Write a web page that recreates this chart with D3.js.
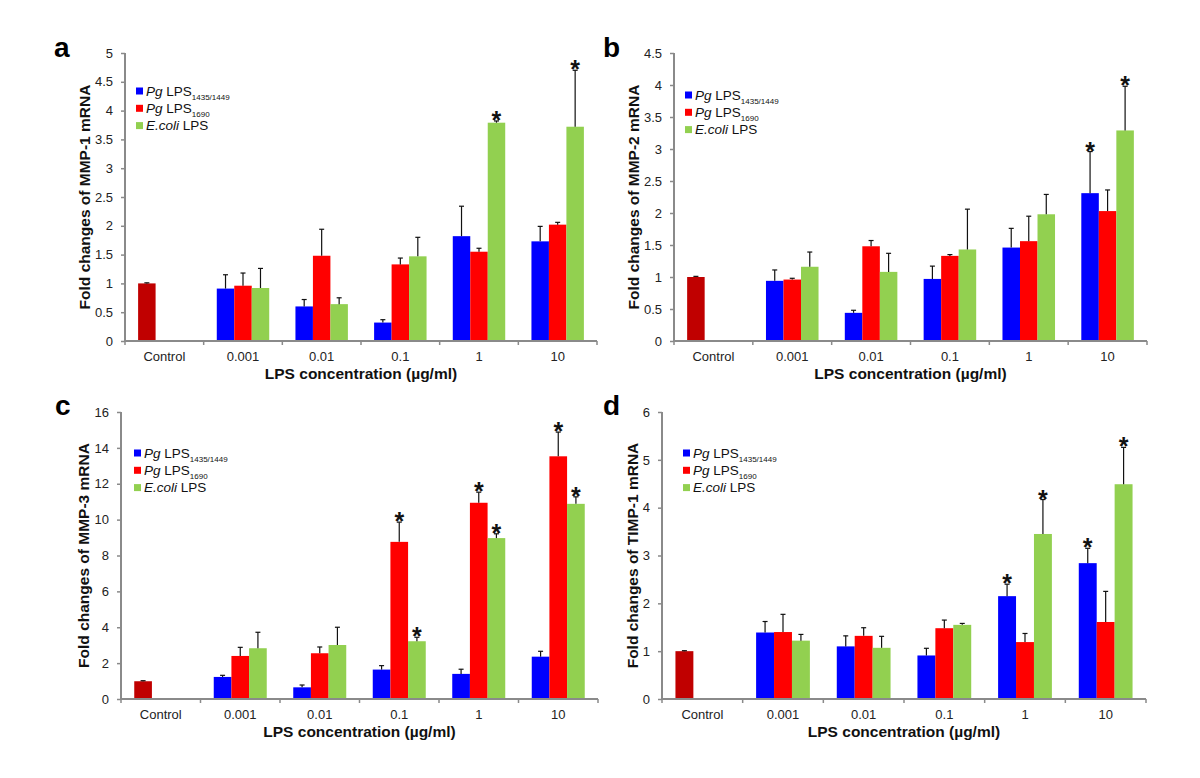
<!DOCTYPE html>
<html>
<head>
<meta charset="utf-8">
<script src="https://cdn.jsdelivr.net/npm/d3@7"></script>
<style>
  html, body { margin: 0; padding: 0; background: #fff; }
  svg { display: block; font-family: "Liberation Sans", Arial, sans-serif; }
</style>
</head>
<body>
<svg id="chart" width="1200" height="778"></svg>
<script>
// ---------------- DATA ----------------
const categories = ["Control", "0.001", "0.01", "0.1", "1", "10"];
const doses = ["0.001", "0.01", "0.1", "1", "10"];
const seriesKeys = ["pg1435", "pg1690", "ecoli"];

// Panel a: MMP-1
const mmp1Control = [1.00]; const mmp1ControlErr = [0.01];
const mmp1Pg1435 = [0.91, 0.60, 0.32, 1.82, 1.73];
const mmp1Pg1435Err = [0.24, 0.12, 0.05, 0.52, 0.26];
const mmp1Pg1690 = [0.96, 1.48, 1.33, 1.55, 2.02];
const mmp1Pg1690Err = [0.22, 0.46, 0.11, 0.06, 0.04];
const mmp1Ecoli = [0.92, 0.64, 1.47, 3.79, 3.72];
const mmp1EcoliErr = [0.34, 0.11, 0.33, 0.03, 0.98];
const mmp1Stars = [[], [], ["1", "10"]];
const mmp1Ticks = [0, 0.5, 1, 1.5, 2, 2.5, 3, 3.5, 4, 4.5, 5];

// Panel b: MMP-2
const mmp2Control = [1.00]; const mmp2ControlErr = [0.01];
const mmp2Pg1435 = [0.94, 0.44, 0.97, 1.46, 2.31];
const mmp2Pg1435Err = [0.17, 0.04, 0.20, 0.30, 0.65];
const mmp2Pg1690 = [0.96, 1.48, 1.33, 1.56, 2.03];
const mmp2Pg1690Err = [0.02, 0.09, 0.02, 0.39, 0.33];
const mmp2Ecoli = [1.16, 1.08, 1.43, 1.98, 3.29];
const mmp2EcoliErr = [0.23, 0.29, 0.63, 0.31, 0.69];
const mmp2Stars = [["10"], [], ["10"]];
const mmp2Ticks = [0, 0.5, 1, 1.5, 2, 2.5, 3, 3.5, 4, 4.5];

// Panel c: MMP-3
const mmp3Control = [0.99]; const mmp3ControlErr = [0.03];
const mmp3Pg1435 = [1.23, 0.65, 1.64, 1.40, 2.36];
const mmp3Pg1435Err = [0.09, 0.13, 0.22, 0.26, 0.30];
const mmp3Pg1690 = [2.40, 2.55, 8.76, 10.94, 13.53];
const mmp3Pg1690Err = [0.48, 0.35, 1.10, 0.59, 1.35];
const mmp3Ecoli = [2.83, 3.01, 3.22, 8.97, 10.88];
const mmp3EcoliErr = [0.89, 0.99, 0.22, 0.24, 0.39];
const mmp3Stars = [[], ["0.1", "1", "10"], ["0.1", "1", "10"]];
const mmp3Ticks = [0, 2, 4, 6, 8, 10, 12, 14, 16];

// Panel d: TIMP-1
const timp1Control = [1.00]; const timp1ControlErr = [0.01];
const timp1Pg1435 = [1.39, 1.10, 0.91, 2.15, 2.84];
const timp1Pg1435Err = [0.23, 0.22, 0.15, 0.25, 0.31];
const timp1Pg1690 = [1.40, 1.32, 1.48, 1.19, 1.61];
const timp1Pg1690Err = [0.37, 0.17, 0.17, 0.18, 0.64];
const timp1Ecoli = [1.22, 1.07, 1.55, 3.45, 4.49];
const timp1EcoliErr = [0.13, 0.24, 0.03, 0.72, 0.77];
const timp1Stars = [["1", "10"], [], ["1", "10"]];
const timp1Ticks = [0, 1, 2, 3, 4, 5, 6];

const yTitles = ["Fold changes of MMP-1 mRNA", "Fold changes of MMP-2 mRNA",
                 "Fold changes of MMP-3 mRNA", "Fold changes of TIMP-1 mRNA"];
const panelLetters = ["a", "b", "c", "d"];
const xTitle = "LPS concentration (\u00b5g/ml)";

// ---------------- STYLE ----------------
const seriesColors = { pg1435: "#0000ff", pg1690: "#ff0000", ecoli: "#92d050" };
const controlColor = "#c00000";
const axisColor = "#8a8a8a";

// ---------------- LAYOUT ----------------
const panels = [
  { letter: panelLetters[0], title: yTitles[0], ticks: mmp1Ticks,
    control: mmp1Control, controlErr: mmp1ControlErr,
    vals: { pg1435: mmp1Pg1435, pg1690: mmp1Pg1690, ecoli: mmp1Ecoli },
    errs: { pg1435: mmp1Pg1435Err, pg1690: mmp1Pg1690Err, ecoli: mmp1EcoliErr },
    stars: mmp1Stars,
    x0: 125, x1: 597, yTop: 53, yBot: 341, lx: 136, ly: 91, letterX: 54, letterY: 57, titleX: 85 },
  { letter: panelLetters[1], title: yTitles[1], ticks: mmp2Ticks,
    control: mmp2Control, controlErr: mmp2ControlErr,
    vals: { pg1435: mmp2Pg1435, pg1690: mmp2Pg1690, ecoli: mmp2Ecoli },
    errs: { pg1435: mmp2Pg1435Err, pg1690: mmp2Pg1690Err, ecoli: mmp2EcoliErr },
    stars: mmp2Stars,
    x0: 674, x1: 1147, yTop: 53, yBot: 341, lx: 685, ly: 95, letterX: 603, letterY: 57, titleX: 634 },
  { letter: panelLetters[2], title: yTitles[2], ticks: mmp3Ticks,
    control: mmp3Control, controlErr: mmp3ControlErr,
    vals: { pg1435: mmp3Pg1435, pg1690: mmp3Pg1690, ecoli: mmp3Ecoli },
    errs: { pg1435: mmp3Pg1435Err, pg1690: mmp3Pg1690Err, ecoli: mmp3EcoliErr },
    stars: mmp3Stars,
    x0: 121, x1: 598, yTop: 412, yBot: 699, lx: 134, ly: 453, letterX: 55, letterY: 415, titleX: 84 },
  { letter: panelLetters[3], title: yTitles[3], ticks: timp1Ticks,
    control: timp1Control, controlErr: timp1ControlErr,
    vals: { pg1435: timp1Pg1435, pg1690: timp1Pg1690, ecoli: timp1Ecoli },
    errs: { pg1435: timp1Pg1435Err, pg1690: timp1Pg1690Err, ecoli: timp1EcoliErr },
    stars: timp1Stars,
    x0: 662, x1: 1146, yTop: 412, yBot: 699, lx: 683, ly: 453, letterX: 603, letterY: 415, titleX: 633 }
];

const svg = d3.select("#chart");

panels.forEach(p => {
  const g = svg.append("g");
  const x = d3.scaleBand().domain(categories).range([p.x0, p.x1]).paddingInner(0).paddingOuter(0);
  const slot = d3.scaleBand().domain(seriesKeys).range([0, x.bandwidth()]).paddingInner(0).paddingOuter(0.75);
  const y = d3.scaleLinear().domain([0, d3.max(p.ticks)]).range([p.yBot, p.yTop]);

  // bars
  const bars = [];
  bars.push({ cat: "Control", key: "pg1435", v: p.control[0], e: p.controlErr[0], color: controlColor, star: false });
  seriesKeys.forEach((k, si) => {
    doses.forEach((d, di) => {
      bars.push({ cat: d, key: k, v: p.vals[k][di], e: p.errs[k][di], color: seriesColors[k],
                  star: p.stars[si].includes(d) });
    });
  });
  const bx = b => x(b.cat) + slot(b.key);
  g.selectAll("rect.bar").data(bars).join("rect")
    .attr("class", "bar")
    .attr("x", b => bx(b))
    .attr("width", slot.bandwidth())
    .attr("y", b => y(b.v))
    .attr("height", b => y(0) - y(b.v))
    .attr("fill", b => b.color);

  // error bars
  const eg = g.selectAll("g.err").data(bars).join("g").attr("class", "err");
  eg.append("line")
    .attr("x1", b => bx(b) + slot.bandwidth() / 2).attr("x2", b => bx(b) + slot.bandwidth() / 2)
    .attr("y1", b => y(b.v)).attr("y2", b => y(b.v + b.e))
    .attr("stroke", "#111").attr("stroke-width", 1.2);
  eg.append("line")
    .attr("x1", b => bx(b) + slot.bandwidth() / 2 - 2.5).attr("x2", b => bx(b) + slot.bandwidth() / 2 + 2.5)
    .attr("y1", b => y(b.v + b.e)).attr("y2", b => y(b.v + b.e))
    .attr("stroke", "#111").attr("stroke-width", 1.2);

  // stars
  g.selectAll("text.star").data(bars.filter(b => b.star)).join("text")
    .attr("class", "star")
    .attr("x", b => bx(b) + slot.bandwidth() / 2)
    .attr("y", b => y(b.v + b.e) + 8)
    .attr("text-anchor", "middle")
    .attr("font-size", 25).attr("font-weight", "bold").attr("fill", "#111")
    .text("*");

  // y axis
  const ya = g.append("g").attr("transform", `translate(${p.x0},0)`)
    .call(d3.axisLeft(y).tickValues(p.ticks).tickSize(4).tickPadding(8).tickFormat(d3.format("~g")));
  ya.select(".domain").attr("stroke", axisColor).attr("stroke-width", 2).attr("d", `M0,${p.yBot + 1}V${p.yTop}`);
  ya.selectAll(".tick line").attr("stroke", axisColor).attr("stroke-width", 1.5);
  ya.selectAll(".tick text").attr("font-size", 13).attr("fill", "#222")
    .attr("font-family", "Liberation Sans, Arial, sans-serif");

  // x axis: line, boundary ticks, labels
  const xa = g.append("g").attr("transform", `translate(0,${p.yBot})`)
    .call(d3.axisBottom(x).tickSize(0).tickPadding(11));
  xa.select(".domain").attr("stroke", axisColor).attr("stroke-width", 2).attr("d", `M${p.x0 - 1},0H${p.x1}`);
  xa.selectAll(".tick text").attr("font-size", 13).attr("fill", "#222")
    .attr("font-family", "Liberation Sans, Arial, sans-serif");
  const bounds = categories.map(c => x(c)).concat([x.range()[1]]);
  xa.selectAll("line.bt").data(bounds).join("line").attr("class", "bt")
    .attr("x1", d => d).attr("x2", d => d).attr("y1", 0).attr("y2", 4)
    .attr("stroke", axisColor).attr("stroke-width", 1.5);

  // axis titles
  g.append("text")
    .attr("transform", `translate(${p.titleX},${(p.yTop + p.yBot) / 2}) rotate(-90)`)
    .attr("text-anchor", "middle").attr("dy", "0.35em")
    .attr("font-size", 15.5).attr("font-weight", "bold").attr("fill", "#111")
    .text(p.title);
  g.append("text")
    .attr("x", (p.x0 + p.x1) / 2).attr("y", p.yBot + 38)
    .attr("text-anchor", "middle")
    .attr("font-size", 15.5).attr("font-weight", "bold").attr("fill", "#111")
    .text(xTitle);

  // panel letter
  g.append("text").attr("x", p.letterX).attr("y", p.letterY)
    .attr("font-size", 28).attr("font-weight", "bold").attr("fill", "#000")
    .text(p.letter);

  // legend
  const legendItems = [
    { key: "pg1435", it: "Pg", rest: " LPS", sub: "1435/1449" },
    { key: "pg1690", it: "Pg", rest: " LPS", sub: "1690" },
    { key: "ecoli", it: "E.coli", rest: " LPS", sub: "" }
  ];
  const lg = g.append("g");
  legendItems.forEach((li, i) => {
    const cy = p.ly + i * 17.3;
    lg.append("rect").attr("x", p.lx).attr("y", cy - 3.5).attr("width", 7).attr("height", 7)
      .attr("fill", seriesColors[li.key]);
    const t = lg.append("text").attr("x", p.lx + 10).attr("y", cy + 4.5)
      .attr("font-size", 13.5).attr("fill", "#111");
    t.append("tspan").attr("font-style", "italic").text(li.it);
    t.append("tspan").text(li.rest);
    if (li.sub) t.append("tspan").attr("font-size", 8).attr("dy", 4).text(li.sub);
  });
});
</script>
</body>
</html>
